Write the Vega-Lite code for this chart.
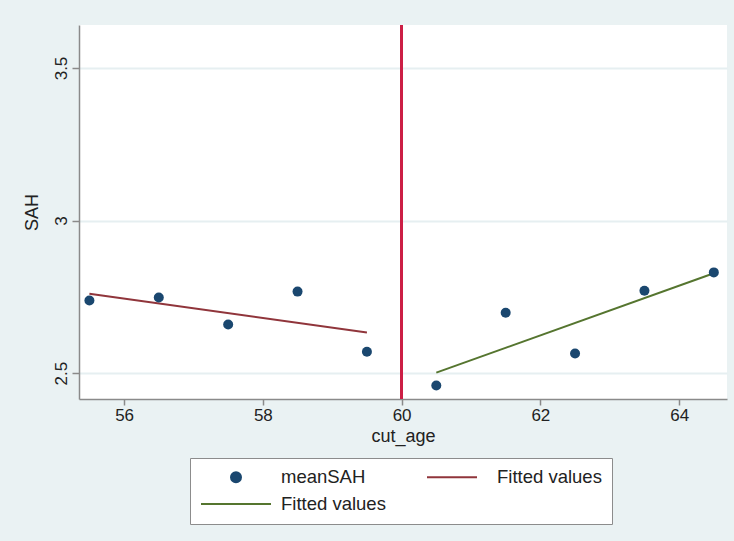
{
  "$schema": "https://vega.github.io/schema/vega-lite/v6.json",
  "width": 648,
  "height": 374,
  "autosize": {"type": "none"},
  "padding": {"left": 79, "top": 25, "right": 7, "bottom": 142},
  "background": "#EAF2F3",
  "config": {
    "view": {"fill": "white", "stroke": null},
    "font": "Liberation Sans",
    "axis": {
      "domainColor": "#8a8a8a",
      "domainWidth": 1.5,
      "tickColor": "#8a8a8a",
      "tickWidth": 1.5,
      "labelColor": "#222222",
      "titleColor": "#222222",
      "labelFont": "Liberation Sans",
      "titleFont": "Liberation Sans",
      "titleFontWeight": "normal",
      "labelFontSize": 17,
      "titleFontSize": 18
    },
    "legend": {
      "orient": "none",
      "legendX": 111,
      "legendY": 433,
      "direction": "horizontal",
      "columns": 2,
      "padding": 10,
      "fillColor": "white",
      "strokeColor": "#8c8c8c",
      "labelFont": "Liberation Sans",
      "labelFontSize": 18.5,
      "labelColor": "#222222",
      "labelOffset": 9,
      "columnPadding": 30,
      "rowPadding": 8,
      "clipHeight": 18,
      "symbolStrokeWidth": 2,
      "labelLimit": 300
    }
  },
  "data": {
    "values": [
      {"cut_age": 55.5, "meanSAH": 2.738, "fit": "fit_left"},
      {"cut_age": 56.5, "meanSAH": 2.748, "fit": "fit_left"},
      {"cut_age": 57.5, "meanSAH": 2.659, "fit": "fit_left"},
      {"cut_age": 58.5, "meanSAH": 2.767, "fit": "fit_left"},
      {"cut_age": 59.5, "meanSAH": 2.570, "fit": "fit_left"},
      {"cut_age": 60.5, "meanSAH": 2.459, "fit": "fit_right"},
      {"cut_age": 61.5, "meanSAH": 2.698, "fit": "fit_right"},
      {"cut_age": 62.5, "meanSAH": 2.564, "fit": "fit_right"},
      {"cut_age": 63.5, "meanSAH": 2.770, "fit": "fit_right"},
      {"cut_age": 64.5, "meanSAH": 2.830, "fit": "fit_right"}
    ]
  },
  "encoding": {
    "x": {
      "field": "cut_age",
      "type": "quantitative",
      "scale": {"domain": [55.35, 64.69], "nice": false, "zero": false},
      "axis": {
        "title": "cut_age",
        "values": [56, 58, 60, 62, 64],
        "grid": false,
        "tickSize": 6,
        "labelPadding": 2,
        "titlePadding": 4
      }
    },
    "y": {
      "field": "meanSAH",
      "type": "quantitative",
      "scale": {"domain": [2.415, 3.641], "nice": false, "zero": false},
      "axis": {
        "title": "SAH",
        "values": [2.5, 3, 3.5],
        "format": ".1~f",
        "grid": true,
        "gridColor": "#E6EFF1",
        "gridWidth": 2,
        "tickSize": 7,
        "labelAngle": -90,
        "labelAlign": "center",
        "labelBaseline": "bottom",
        "labelPadding": 2,
        "titlePadding": 11
      }
    }
  },
  "layer": [
    {
      "mark": {"type": "rule", "color": "#CC1F45", "strokeWidth": 2},
      "encoding": {"x": {"datum": 60}, "y": null}
    },
    {
      "transform": [
        {"regression": "meanSAH", "on": "cut_age", "groupby": ["fit"]}
      ],
      "mark": {"type": "line", "strokeWidth": 2},
      "encoding": {
        "color": {
          "field": "fit",
          "type": "nominal",
          "scale": {
            "domain": ["meanSAH", "fit_left", "fit_right"],
            "range": ["#1A476F", "#90353B", "#55752F"]
          },
          "legend": {
            "title": null,
            "labelExpr": "datum.label == 'meanSAH' ? 'meanSAH' : 'Fitted values'",
            "encode": {
              "symbols": {
                "update": {
                  "fill": {"scale": "color", "field": "value"},
                  "stroke": {"signal": "datum.value === 'meanSAH' ? 'transparent' : scale('color', datum.value)"}
                }
              }
            }
          }
        }
      }
    },
    {
      "mark": {"type": "point", "filled": true, "opacity": 1},
      "encoding": {
        "color": {"datum": "meanSAH", "type": "nominal"},
        "shape": {
          "datum": "meanSAH",
          "type": "nominal",
          "scale": {
            "domain": ["meanSAH", "fit_left", "fit_right"],
            "range": ["circle", "stroke", "stroke"]
          },
          "legend": {"title": null, "labelExpr": "datum.label == 'meanSAH' ? 'meanSAH' : 'Fitted values'"}
        },
        "size": {
          "datum": "meanSAH",
          "type": "ordinal",
          "scale": {
            "domain": ["meanSAH", "fit_left", "fit_right"],
            "range": [100, 4900, 4900]
          },
          "legend": {"title": null, "labelExpr": "datum.label == 'meanSAH' ? 'meanSAH' : 'Fitted values'"}
        }
      }
    }
  ]
}
